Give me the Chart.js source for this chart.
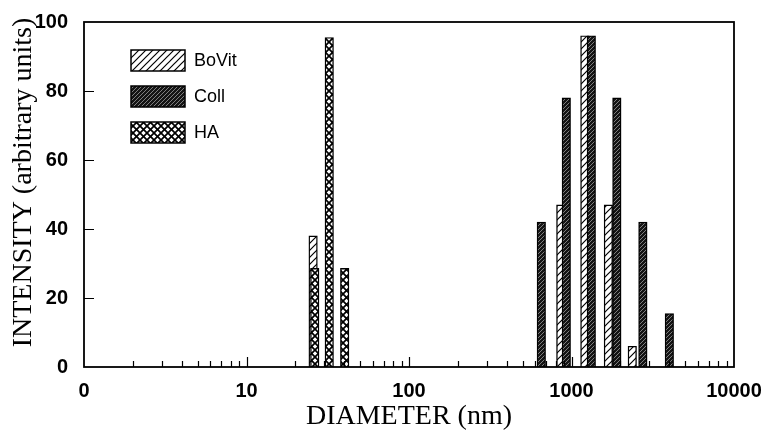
<!DOCTYPE html>
<html>
<head>
<meta charset="utf-8">
<script src="https://cdn.jsdelivr.net/npm/chart.js@4.4.1/dist/chart.umd.min.js"></script>
<style>
  html, body { margin: 0; padding: 0; background: #fff; }
  #wrap { width: 768px; height: 437px; }
</style>
</head>
<body>
<div id="wrap"><canvas id="dlsChart" width="768" height="437"></canvas></div>
<script>
// diameters (nm) and intensities
const bovitDiam = [25.7, 859, 1208, 1686, 2366];
const bovitInt  = [38, 47, 96, 47, 6];
const collDiam  = [652, 929, 1324, 1901, 2749, 4000];
const collInt   = [42, 78, 96, 78, 42, 15.5];
const haDiam    = [26.3, 32.3, 40.2];
const haInt     = [28.6, 95.5, 28.6];

const xDecades = [1, 10, 100, 1000, 10000];
const xDecadeLabels = ['0', '10', '100', '1000', '10000'];
const yTicks = [0, 20, 40, 60, 80, 100];
const yTitle = 'INTENSITY (arbitrary units)';

// tick marks at 1..9 of every decade
const xTickValues = [];
xDecades.forEach((d, i) => {
  xTickValues.push(d);
  if (i < xDecades.length - 1) {
    for (let m = 2; m <= 9; m++) xTickValues.push(d * m);
  }
});

function makePattern(size, draw) {
  const c = document.createElement('canvas');
  c.width = size; c.height = size;
  const g = c.getContext('2d');
  draw(g, size);
  return g.createPattern(c, 'repeat');
}

function diag(g, s) {
  g.beginPath();
  g.moveTo(0, s); g.lineTo(s, 0);
  g.moveTo(-1, 1); g.lineTo(1, -1);
  g.moveTo(s - 1, s + 1); g.lineTo(s + 1, s - 1);
  g.stroke();
}

const hatchLight = makePattern(7, (g, s) => {
  g.fillStyle = '#fff'; g.fillRect(0, 0, s, s);
  g.strokeStyle = '#000'; g.lineWidth = 1.2;
  diag(g, s);
});

const hatchDark = makePattern(4, (g, s) => {
  g.fillStyle = '#141414'; g.fillRect(0, 0, s, s);
  g.strokeStyle = '#9a9a9a'; g.lineWidth = 0.8;
  diag(g, s);
});

const crossHatch = makePattern(7, (g, s) => {
  g.fillStyle = '#fff'; g.fillRect(0, 0, s, s);
  g.strokeStyle = '#000'; g.lineWidth = 1.7;
  diag(g, s);
  g.beginPath();
  g.moveTo(0, 0); g.lineTo(s, s);
  g.moveTo(-1, s - 1); g.lineTo(1, s + 1);
  g.moveTo(s - 1, -1); g.lineTo(s + 1, 1);
  g.stroke();
});

const tickFont = { family: '"Liberation Sans", Arial, sans-serif', size: 20, weight: 'bold' };
const titleFont = { family: '"Liberation Serif", "Times New Roman", serif', size: 28 };

// frame, inward tick marks and the vertical axis title
const frameTicks = {
  id: 'frameTicks',
  afterDatasetsDraw(chart) {
    const { ctx, chartArea: a, scales: { x, y } } = chart;
    ctx.save();
    ctx.strokeStyle = '#000';
    ctx.lineWidth = 1.2;
    ctx.beginPath();
    x.ticks.forEach(t => {
      if (t.value <= 1 || t.value >= 10000) return;
      const px = Math.round(x.getPixelForValue(t.value)) + 0.5;
      const len = xDecades.includes(t.value) ? 10 : 6;
      ctx.moveTo(px, a.bottom);
      ctx.lineTo(px, a.bottom - len);
    });
    y.ticks.forEach(t => {
      if (t.value <= 0 || t.value >= 100) return;
      const py = Math.round(y.getPixelForValue(t.value)) + 0.5;
      ctx.moveTo(a.left, py);
      ctx.lineTo(a.left + 10, py);
    });
    ctx.stroke();
    ctx.lineWidth = 1.8;
    ctx.strokeRect(a.left, a.top, a.right - a.left, a.bottom - a.top);

    ctx.translate(24, (a.top + a.bottom) / 2 - 12);
    ctx.rotate(-Math.PI / 2);
    ctx.fillStyle = '#000';
    ctx.font = titleFont.size + 'px ' + titleFont.family;
    ctx.textAlign = 'center';
    ctx.textBaseline = 'middle';
    ctx.fillText(yTitle, 0, 0);
    ctx.restore();
  }
};

// legend inside the plot, top left
const legendBoxes = {
  id: 'legendBoxes',
  afterDraw(chart) {
    const { ctx, chartArea } = chart;
    const x0 = chartArea.left + 47;
    const y0 = chartArea.top + 28;
    chart.data.datasets.forEach((ds, i) => {
      const yy = y0 + i * 36;
      ctx.save();
      ctx.fillStyle = ds.backgroundColor;
      ctx.fillRect(x0, yy, 54, 21);
      ctx.lineWidth = 1.5;
      ctx.strokeStyle = '#000';
      ctx.strokeRect(x0, yy, 54, 21);
      ctx.fillStyle = '#000';
      ctx.font = '18px "Liberation Sans", Arial, sans-serif';
      ctx.textBaseline = 'middle';
      ctx.fillText(ds.label, x0 + 63, yy + 11);
      ctx.restore();
    });
  }
};

const ctx = document.getElementById('dlsChart').getContext('2d');
new Chart(ctx, {
  type: 'bar',
  data: {
    datasets: [
      {
        label: 'BoVit',
        data: bovitDiam.map((d, i) => ({ x: d, y: bovitInt[i] })),
        backgroundColor: hatchLight,
        borderColor: '#000',
        borderWidth: 1.4,
        order: 2
      },
      {
        label: 'Coll',
        data: collDiam.map((d, i) => ({ x: d, y: collInt[i] })),
        backgroundColor: hatchDark,
        borderColor: '#000',
        borderWidth: 1.4,
        order: 1
      },
      {
        label: 'HA',
        data: haDiam.map((d, i) => ({ x: d, y: haInt[i] })),
        backgroundColor: crossHatch,
        borderColor: '#000',
        borderWidth: 1.4,
        order: 0
      }
    ]
  },
  options: {
    responsive: false,
    animation: false,
    devicePixelRatio: 1,
    datasets: { bar: { grouped: false, barThickness: 8.5 } },
    layout: { padding: { top: 22, right: 34, left: 0, bottom: 0 } },
    plugins: { legend: { display: false }, tooltip: { enabled: false } },
    scales: {
      x: {
        type: 'logarithmic',
        min: 1,
        max: 10000,
        offset: false,
        afterBuildTicks: ax => { ax.ticks = xTickValues.map(v => ({ value: v })); },
        afterFit: ax => { ax.height = 70; ax.paddingLeft = 0; ax.paddingRight = 0; },
        grid: { display: false, drawTicks: false, offset: false },
        border: { display: false },
        ticks: {
          autoSkip: false,
          maxRotation: 0,
          padding: 12,
          color: '#000',
          font: tickFont,
          callback: v => {
            const k = xDecades.indexOf(v);
            return k >= 0 ? xDecadeLabels[k] : '';
          }
        },
        title: { display: true, text: 'DIAMETER (nm)', color: '#000', font: titleFont, padding: { top: 0, bottom: 4 } }
      },
      y: {
        min: 0,
        max: 100,
        afterBuildTicks: ax => { ax.ticks = yTicks.map(v => ({ value: v })); },
        afterFit: ax => { ax.width = 84; ax.paddingTop = 0; ax.paddingBottom = 0; },
        grid: { display: false, drawTicks: false },
        border: { display: false },
        ticks: { padding: 16, color: '#000', font: tickFont }
      }
    }
  },
  plugins: [frameTicks, legendBoxes]
});
</script>
</body>
</html>
